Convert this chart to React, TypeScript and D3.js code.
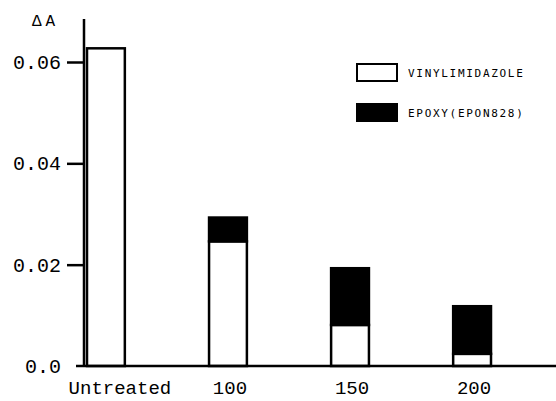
import React, { useEffect, useRef } from "react";
import { select, scaleBand, scaleLinear, axisLeft, axisBottom, stack } from "d3";

const categories = ["Untreated", "100", "150", "200"];
const vinylValues = [0.0627, 0.0246, 0.0081, 0.0024];
const epoxyValues = [0, 0.0047, 0.0112, 0.0094];
const seriesKeys = ["vinyl", "epoxy"];
const seriesLabels = ["VINYLIMIDAZOLE", "EPOXY(EPON828)"];
const seriesFills = ["#ffffff", "#000000"];
const yTicks = [0, 0.02, 0.04, 0.06];
const yTickLabels = ["0.0", "0.02", "0.04", "0.06"];

const W = 556;
const H = 401;

export default function App() {
  const svgRef = useRef<SVGSVGElement>(null);

  useEffect(() => {
    const svg = select(svgRef.current);
    svg.selectAll("*").remove();

    const rows = categories.map((c, i) => ({ cat: c, vinyl: vinylValues[i], epoxy: epoxyValues[i] }));
    const layers = stack<any>().keys(seriesKeys)(rows);

    const x = scaleBand().domain(categories).range([87, 491]).paddingInner(0.69).paddingOuter(0);
    const y = scaleLinear().domain([0, 0.06]).range([366, 62]);

    // bars
    svg
      .append("g")
      .selectAll("g")
      .data(layers)
      .join("g")
      .attr("fill", (_, i) => seriesFills[i])
      .attr("stroke", "#000")
      .attr("stroke-width", 2.5)
      .selectAll("rect")
      .data((l) => l.filter((s) => s[1] - s[0] > 0))
      .join("rect")
      .attr("x", (s: any) => x(s.data.cat)!)
      .attr("width", x.bandwidth())
      .attr("y", (s) => y(s[1]))
      .attr("height", (s) => y(s[0]) - y(s[1]));

    // y axis
    const yAxis = axisLeft(y)
      .tickValues(yTicks)
      .tickSize(17)
      .tickPadding(6)
      .tickFormat((d, i) => yTickLabels[i]);
    const gy = svg.append("g").attr("transform", "translate(84,0)").call(yAxis);
    gy.select(".domain").remove();
    gy.selectAll(".tick line").attr("stroke", "#000").attr("stroke-width", 2.5)
      .filter((d: any) => d === 0).remove();
    gy.selectAll(".tick text")
      .attr("font-family", "Liberation Mono, monospace")
      .attr("font-size", 20)
      .attr("fill", "#000");
    svg.append("line")
      .attr("x1", 84).attr("x2", 84)
      .attr("y1", y(0.0685)).attr("y2", y(0))
      .attr("stroke", "#000").attr("stroke-width", 2.5);

    // x axis
    const gx = svg.append("g").attr("transform", `translate(0,${y(0)})`)
      .call(axisBottom(x).tickSize(0).tickPadding(10));
    gx.select(".domain").remove();
    gx.selectAll(".tick text")
      .attr("font-family", "Liberation Mono, monospace")
      .attr("font-size", 19)
      .attr("fill", "#000")
      .attr("dy", "0.93em")
      .attr("dx", (d: any) => (d === "Untreated" ? 14 : 2));
    svg.append("line")
      .attr("x1", 76).attr("x2", W)
      .attr("y1", y(0)).attr("y2", y(0))
      .attr("stroke", "#000").attr("stroke-width", 2.5);

    // y label
    svg.append("text")
      .attr("x", 32).attr("y", 26)
      .attr("font-family", "Liberation Mono, monospace")
      .attr("font-size", 16)
      .attr("letter-spacing", 4)
      .text("ΔA");

    // legend
    const lg = svg.append("g");
    seriesKeys.forEach((k, i) => {
      const ly = 64 + i * 40;
      lg.append("rect")
        .attr("x", 357).attr("y", ly)
        .attr("width", 40).attr("height", 17)
        .attr("fill", seriesFills[i])
        .attr("stroke", "#000").attr("stroke-width", 2);
      lg.append("text")
        .attr("x", 408).attr("y", ly + 10)
        .attr("dominant-baseline", "middle")
        .attr("font-family", "DejaVu Sans Mono, monospace")
        .attr("font-size", 11)
        .attr("letter-spacing", 1.7)
        .text(seriesLabels[i]);
    });
  }, []);

  return (
    <svg
      ref={svgRef}
      width={W}
      height={H}
      style={{ position: "absolute", left: 0, top: 0, background: "#fff" }}
    />
  );
}
